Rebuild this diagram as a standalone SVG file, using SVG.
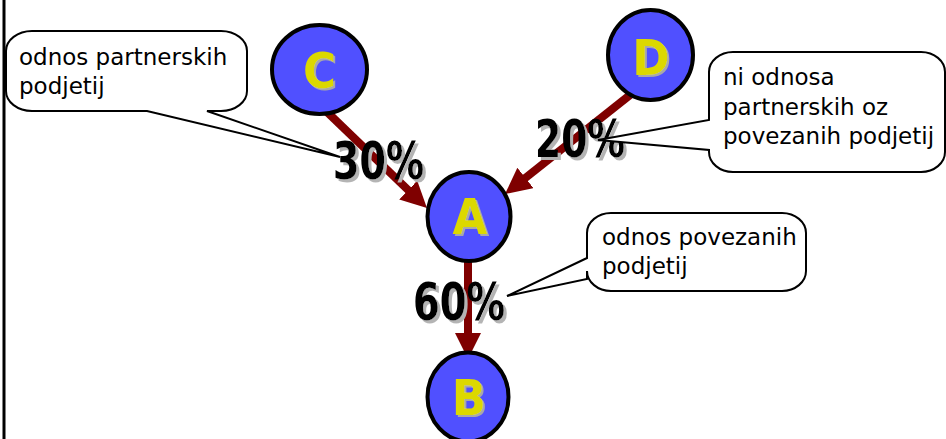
<svg xmlns="http://www.w3.org/2000/svg" width="946" height="439" viewBox="0 0 946 439">
<defs>
<style>
.node{fill:#5050ff;stroke:#000;stroke-width:4}
.lbl{font-family:"DejaVu Sans Condensed","DejaVu Sans",sans-serif;font-stretch:condensed;font-weight:bold;font-size:50px;text-anchor:middle;fill:#dcd800;filter:url(#sh2)}
.pct{font-family:"DejaVu Sans Condensed","DejaVu Sans",sans-serif;font-stretch:condensed;font-weight:bold;font-size:51px;fill:#000;filter:url(#sh3)}
.conn{stroke:#7f0000;stroke-width:8;fill:none;marker-end:url(#ah)}
.call{fill:#fff;stroke:#000;stroke-width:2;stroke-linejoin:miter}
.ct{font-family:"DejaVu Sans",Verdana,sans-serif;font-size:23px;fill:#000}
</style>
<filter id="sh2" x="-20%" y="-20%" width="150%" height="150%">
<feFlood flood-color="#a8a8a8"/>
<feComposite in2="SourceAlpha" operator="in"/>
<feOffset dx="2" dy="2" result="s"/>
<feMerge><feMergeNode in="s"/><feMergeNode in="SourceGraphic"/></feMerge>
</filter>
<filter id="sh3" x="-20%" y="-20%" width="150%" height="150%">
<feFlood flood-color="#b4b4b4"/>
<feComposite in2="SourceAlpha" operator="in"/>
<feOffset dx="3" dy="3" result="s"/>
<feMerge><feMergeNode in="s"/><feMergeNode in="SourceGraphic"/></feMerge>
</filter>
<marker id="ah" viewBox="0 0 26 26" refX="4" refY="13" markerWidth="26" markerHeight="26" markerUnits="userSpaceOnUse" orient="auto">
<path d="M0,0 L26,13 L0,26 Z" fill="#7f0000"/>
</marker>
</defs>
<rect width="946" height="439" fill="#fff"/>
<line x1="4" y1="0" x2="4" y2="439" stroke="#000" stroke-width="3"/>

<g id="connectors">
<line class="conn" x1="326" y1="111" x2="411.1" y2="192.8"/>
<line class="conn" x1="630" y1="95" x2="522.3" y2="180.4"/>
<line class="conn" x1="468" y1="257" x2="468" y2="337"/>
</g>

<g id="node-C">
<ellipse class="node" cx="319.5" cy="69.5" rx="47.5" ry="44.5"/>
<text class="lbl" x="319.5" y="88">C</text>
</g>
<g id="node-D">
<ellipse class="node" cx="650.5" cy="55" rx="42.5" ry="45"/>
<text class="lbl" x="651" y="75">D</text>
</g>
<g id="node-A">
<ellipse class="node" cx="469" cy="216.5" rx="41.5" ry="44.5"/>
<text class="lbl" x="470" y="234">A</text>
</g>
<g id="node-B">
<ellipse class="node" cx="468" cy="397" rx="40.5" ry="44.5"/>
<text class="lbl" x="469" y="415">B</text>
</g>

<g id="pct-30">
<text class="pct" x="333" y="179" textLength="91" lengthAdjust="spacingAndGlyphs">30%</text>
</g>
<g id="pct-20">
<text class="pct" x="535" y="157" textLength="90" lengthAdjust="spacingAndGlyphs">20%</text>
</g>
<g id="pct-60">
<text class="pct" x="413" y="320" textLength="92" lengthAdjust="spacingAndGlyphs">60%</text>
</g>

<g id="callout-partnerska">
<path class="call" d="M32,31 H221 A26 20 0 0 1 247,51 V91 A26 20 0 0 1 221,111 H207 L340,157 L147,111 H32 A26 20 0 0 1 6,91 V51 A26 20 0 0 1 32,31 Z"/>
<text class="ct" x="19" y="65">odnos partnerskih</text>
<text class="ct" x="19" y="94">podjetij</text>
</g>
<g id="callout-ni-odnosa">
<path class="call" d="M733,52 H921 A24 20 0 0 1 945,72 V152 A24 20 0 0 1 921,172 H733 A24 20 0 0 1 709,152 V150 L598,140 L709,120 V72 A24 20 0 0 1 733,52 Z"/>
<text class="ct" x="723" y="85">ni odnosa</text>
<text class="ct" x="723" y="114.5">partnerskih oz</text>
<text class="ct" x="723" y="144">povezanih podjetij</text>
</g>
<g id="callout-povezana">
<path class="call" d="M611,213 H782 A24 20 0 0 1 806,233 V271 A24 20 0 0 1 782,291 H611 A24 20 0 0 1 587,271 V279 L507,296 L587,258 V233 A24 20 0 0 1 611,213 Z"/>
<text class="ct" x="602" y="245">odnos povezanih</text>
<text class="ct" x="602" y="274">podjetij</text>
</g>
</svg>
